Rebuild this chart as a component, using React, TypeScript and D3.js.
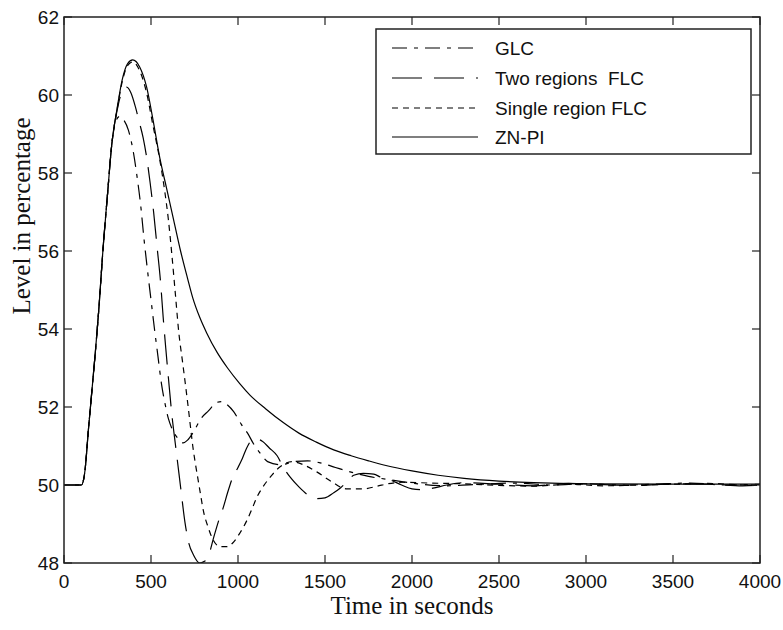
import React from "react";
import * as d3 from "d3";

// ---- data (time in seconds, level in percent) ----
const xTicks = [0, 500, 1000, 1500, 2000, 2500, 3000, 3500, 4000];
const yTicks = [48, 50, 52, 54, 56, 58, 60, 62];

const riseCommon: [number, number][] = [
  [0, 50], [100, 50], [120, 50.35], [140, 51.4], [160, 52.4], [180, 53.4],
  [200, 54.5], [225, 56.1], [250, 57.45], [275, 58.75],
];

const glcTail: [number, number][] = [
  [300, 59.35], [320, 59.45], [345, 59.35], [370, 59.1], [400, 58.5], [420, 57.9],
  [440, 57.2], [460, 56.3], [480, 55.5], [500, 54.75], [520, 54.0], [540, 53.3],
  [560, 52.6], [580, 52.1], [600, 51.7], [620, 51.45], [650, 51.22], [685, 51.08],
  [710, 51.15], [740, 51.33], [790, 51.72], [830, 51.9], [880, 52.12], [910, 52.14],
  [940, 52.05], [975, 51.88], [1020, 51.55], [1055, 51.33], [1090, 51.05], [1130, 50.8],
  [1170, 50.6], [1250, 50.52], [1320, 50.6], [1400, 50.62], [1480, 50.56], [1560, 50.45],
  [1650, 50.33], [1750, 50.22], [1850, 50.15], [1950, 50.08], [2050, 50.02], [2200, 49.98],
  [2400, 50.02], [2600, 50.05], [2800, 50.0], [3000, 50.03], [3200, 50.0], [3400, 50.02],
  [3600, 50.05], [3800, 50.0], [4000, 50.02],
];

const twoRegionTail: [number, number][] = [
  [305, 59.6], [335, 60.1], [360, 60.2], [385, 60.05], [410, 59.7], [430, 59.35],
  [455, 58.9], [475, 58.4], [495, 57.75], [515, 57.0], [535, 56.1], [555, 55.2],
  [570, 54.3], [585, 53.5], [600, 52.75], [620, 51.8], [640, 51.05], [655, 50.5],
  [670, 49.95], [695, 49.05], [715, 48.55], [745, 48.2], [780, 48.0], [810, 48.05],
  [835, 48.25], [860, 48.65], [890, 49.1], [915, 49.42], [940, 49.8], [970, 50.2],
  [1000, 50.45], [1025, 50.68], [1050, 50.95], [1080, 51.15], [1110, 51.18], [1140, 51.12],
  [1180, 50.95], [1225, 50.75], [1260, 50.46], [1300, 50.2], [1350, 49.95], [1400, 49.75],
  [1450, 49.65], [1500, 49.67], [1550, 49.8], [1590, 49.93], [1630, 50.1], [1665, 50.25],
  [1720, 50.3], [1780, 50.28], [1820, 50.2], [1880, 50.12], [1940, 50.0], [2000, 49.9],
  [2060, 49.88], [2120, 49.92], [2200, 50.0], [2300, 50.06], [2500, 50.02], [2700, 49.98],
  [2900, 50.04], [3100, 50.01], [3300, 49.99], [3500, 50.03], [3700, 50.02], [3900, 49.98],
  [4000, 50.0],
];

const singleRegionTail: [number, number][] = [
  [305, 59.62], [335, 60.35], [365, 60.75], [395, 60.85], [435, 60.62], [475, 60.05],
  [510, 59.25], [552, 58.3], [580, 57.5], [600, 56.8], [620, 55.9], [640, 54.9],
  [660, 53.9], [680, 53.2], [700, 52.5], [715, 51.95], [728, 51.45], [740, 51.0],
  [755, 50.55], [770, 50.15], [785, 49.75], [800, 49.36], [828, 48.92], [856, 48.6],
  [897, 48.42], [937, 48.42], [971, 48.52], [1011, 48.77], [1052, 49.1], [1080, 49.38],
  [1110, 49.7], [1140, 49.93], [1185, 50.2], [1240, 50.46], [1310, 50.6], [1385, 50.5],
  [1455, 50.33], [1540, 50.08], [1625, 49.9], [1720, 49.9], [1800, 49.97], [1860, 50.03],
  [1950, 50.07], [2100, 50.05], [2300, 50.03], [2500, 49.99], [2700, 49.97], [2900, 50.02],
  [3100, 49.98], [3300, 50.0], [3500, 50.02], [3700, 50.04], [3900, 50.0], [4000, 49.99],
];

const znpiTail: [number, number][] = [
  [305, 59.65], [335, 60.4], [365, 60.8], [395, 60.9], [435, 60.72], [475, 60.2],
  [510, 59.4], [550, 58.4], [590, 57.6], [630, 56.8], [670, 56.0], [710, 55.3],
  [740, 54.8], [780, 54.3], [820, 53.9], [880, 53.4], [940, 53.0], [1010, 52.6],
  [1070, 52.3], [1160, 51.95], [1260, 51.6], [1350, 51.33], [1450, 51.1], [1550, 50.9],
  [1650, 50.75], [1750, 50.62], [1850, 50.5], [2000, 50.36], [2150, 50.25], [2300, 50.17],
  [2500, 50.1], [2700, 50.06], [3000, 50.03], [3500, 50.02], [4000, 50.02],
];

const seriesNames = ["GLC", "Two regions  FLC", "Single region FLC", "ZN-PI"];
const seriesData = [
  riseCommon.concat(glcTail),
  riseCommon.concat(twoRegionTail),
  riseCommon.concat(singleRegionTail),
  riseCommon.concat(znpiTail),
];
const seriesDash = ["15,7,4,7", "30,12", "6,5", "none"];

// ---- layout ----
const W = 783, H = 630;
const M = { left: 64, right: 23, top: 17, bottom: 67 };
const INK = "#111";

export default function App() {
  const x = d3.scaleLinear().domain([0, 4000]).range([M.left, W - M.right]);
  const y = d3.scaleLinear().domain([48, 62]).range([H - M.bottom, M.top]);
  const line = d3
    .line<[number, number]>()
    .x((d) => x(d[0]))
    .y((d) => y(d[1]))
    .curve(d3.curveMonotoneX);

  const x0 = M.left, x1 = W - M.right, y0 = M.top, y1 = H - M.bottom;
  const tk = 8;
  const tickFont = "'Liberation Sans', Arial, sans-serif";
  const serif = "'Liberation Serif', 'Times New Roman', serif";

  const legX = 376, legY = 29, legW = 375, legH = 125;
  const rowY = [48, 78, 108, 137];

  return (
    <svg
      width={W}
      height={H}
      style={{ position: "absolute", left: 0, top: 0, background: "#fff" }}
    >
      <rect x={0} y={0} width={W} height={H} fill="#fff" />
      <defs>
        <clipPath id="plotclip">
          <rect x={x0} y={y0} width={x1 - x0} height={y1 - y0} />
        </clipPath>
      </defs>

      {/* series */}
      <g clipPath="url(#plotclip)">
        {seriesData.map((d, i) => (
          <path
            key={i}
            d={line(d) || ""}
            fill="none"
            stroke="#000"
            strokeWidth={1.2}
            strokeDasharray={seriesDash[i]}
          />
        ))}
      </g>

      {/* ticks on all sides */}
      <g stroke="#222" strokeWidth={1.2}>
        {xTicks.map((t) => (
          <g key={"xt" + t}>
            <line x1={x(t)} x2={x(t)} y1={y1} y2={y1 - tk} />
            <line x1={x(t)} x2={x(t)} y1={y0} y2={y0 + tk} />
          </g>
        ))}
        {yTicks.map((t) => (
          <g key={"yt" + t}>
            <line x1={x0} x2={x0 + tk} y1={y(t)} y2={y(t)} />
            <line x1={x1} x2={x1 - tk} y1={y(t)} y2={y(t)} />
          </g>
        ))}
      </g>

      {/* frame */}
      <rect
        x={x0}
        y={y0}
        width={x1 - x0}
        height={y1 - y0}
        fill="none"
        stroke="#222"
        strokeWidth={1.5}
      />

      {/* tick labels */}
      <g fontFamily={tickFont} fontSize={19} fill={INK}>
        {xTicks.map((t) => (
          <text key={"xl" + t} x={x(t)} y={y1 + 25} textAnchor="middle">
            {t}
          </text>
        ))}
        {yTicks.map((t) => (
          <text
            key={"yl" + t}
            x={x0 - 5}
            y={y(t)}
            textAnchor="end"
            dominantBaseline="central"
          >
            {t}
          </text>
        ))}
      </g>

      {/* axis titles */}
      <text
        x={(x0 + x1) / 2}
        y={614}
        textAnchor="middle"
        fontFamily={serif}
        fontSize={25}
        fill={INK}
      >
        Time in seconds
      </text>
      <text
        transform={`translate(30, 216) rotate(-90)`}
        textAnchor="middle"
        fontFamily={serif}
        fontSize={25}
        fill={INK}
      >
        Level in percentage
      </text>

      {/* legend */}
      <rect
        x={legX}
        y={legY}
        width={legW}
        height={legH}
        fill="#fff"
        stroke="#222"
        strokeWidth={1.5}
      />
      {seriesNames.map((name, i) => (
        <g key={"lg" + i}>
          <line
            x1={392}
            x2={478}
            y1={rowY[i]}
            y2={rowY[i]}
            stroke="#000"
            strokeWidth={1.2}
            strokeDasharray={seriesDash[i]}
          />
          <text
            x={495}
            y={rowY[i]}
            dominantBaseline="central"
            fontFamily={tickFont}
            fontSize={19}
            fill={INK}
            style={{ whiteSpace: "pre" }}
          >
            {name}
          </text>
        </g>
      ))}
    </svg>
  );
}
